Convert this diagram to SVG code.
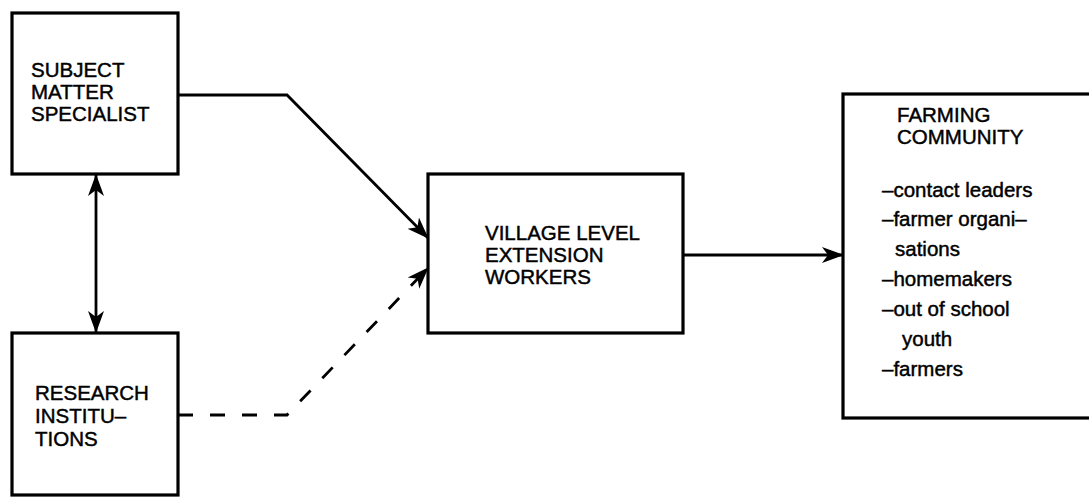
<svg xmlns="http://www.w3.org/2000/svg" width="1089" height="498" viewBox="0 0 1089 498">
<style>
.box{fill:#fff;stroke:#000;stroke-width:3.2}
.t{font-family:"Liberation Sans",Arial,sans-serif;font-size:20.5px;fill:#000;stroke:#000;stroke-width:0.45}
.c{fill:none;stroke:#000;stroke-width:2.8}
.d{stroke-dasharray:15 17}
</style>
<defs>
<marker id="ah" viewBox="0 0 22 18" refX="21" refY="9" markerWidth="22" markerHeight="18" markerUnits="userSpaceOnUse" orient="auto-start-reverse">
<path d="M0,1 L22,9 L0,17 L6,9 Z" fill="#000"/>
</marker>
</defs>
<g id="n1"><rect class="box" x="12" y="13" width="166" height="161"/>
<text class="t"><tspan x="31" y="77">SUBJECT</tspan><tspan x="31" y="99">MATTER</tspan><tspan x="31" y="121">SPECIALIST</tspan></text></g>
<g id="n2"><rect class="box" x="12" y="333" width="166" height="162"/>
<text class="t"><tspan x="35" y="400">RESEARCH</tspan><tspan x="35" y="423">INSTITU–</tspan><tspan x="35" y="446">TIONS</tspan></text></g>
<g id="n3"><rect class="box" x="428" y="174" width="255" height="159"/>
<text class="t"><tspan x="485" y="240">VILLAGE LEVEL</tspan><tspan x="485" y="262">EXTENSION</tspan><tspan x="485" y="284">WORKERS</tspan></text></g>
<g id="n4"><rect class="box" x="843" y="94" width="260" height="324"/>
<text class="t"><tspan x="897" y="122">FARMING</tspan><tspan x="897" y="144">COMMUNITY</tspan>
<tspan x="882" y="197">–contact leaders</tspan><tspan x="882" y="226">–farmer organi–</tspan><tspan x="895" y="256">sations</tspan><tspan x="882" y="286">–homemakers</tspan><tspan x="882" y="316">–out of school</tspan><tspan x="902" y="346">youth</tspan><tspan x="882" y="376">–farmers</tspan></text></g>
<g id="connectors">
<path class="c" d="M96,175 L96,332" marker-start="url(#ah)" marker-end="url(#ah)"/>
<path class="c" d="M178,95 L287,95 L428,238" marker-end="url(#ah)"/>
<path class="c d" d="M178,415 L287,415 L428,268" marker-end="url(#ah)"/>
<path class="c" d="M683,255 L843,255" marker-end="url(#ah)"/>
</g>
</svg>
